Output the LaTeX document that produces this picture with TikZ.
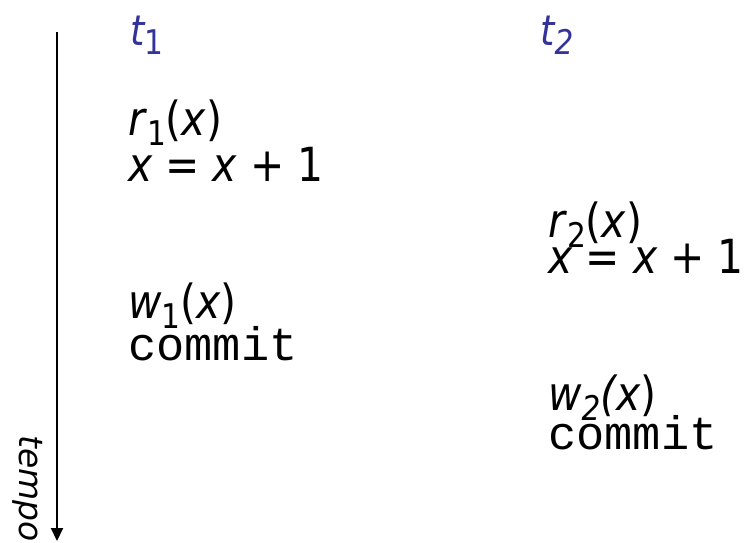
\documentclass[tikz,border=0pt]{standalone}
\usepackage{fontspec}
\setmainfont{DejaVu Sans}
\setmonofont{Liberation Mono}
\newfontfamily\opfont[FakeStretch=0.87]{DejaVu Sans}
\usepackage{tikz}
\usetikzlibrary{arrows.meta,positioning}
\definecolor{trblue}{RGB}{51,51,153}
\newcommand\idx[1]{\raisebox{-.22em}{\fontsize{34}{34}\selectfont #1}}
\newcommand\tvar[1]{\textit{#1}}
\tikzset{
  op/.style={anchor=base west, inner sep=0pt, align=left,
    font=\opfont\fontsize{47}{47}\selectfont},
  trname/.style={anchor=base west, inner sep=0pt, text=trblue,
    font=\opfont\fontsize{42}{42}\selectfont\itshape},
  commitline/.style={anchor=base west, inner sep=0pt,
    font=\fontsize{47}{47}\selectfont\ttfamily},
}

\begin{document}
\begin{tikzpicture}[x=1pt, y=1pt]
  \useasboundingbox (0,0) rectangle (747,-542);
  % time axis
  \coordinate (top) at (57,-32);
  \coordinate (bot) at (57,-541);
  \draw[line width=2pt, -{Triangle[length=13pt, width=12pt]}] (top) -- (bot);
  \node[rotate=-90, anchor=north west, inner sep=0pt,
    font=\fontsize{33}{33}\selectfont\itshape] (tempo) at (43,-435) {tempo};

  % transaction t1
  \node[trname] (t1) at (130,-45) {t\idx{\upshape 1}};
  \node[op] (r1) at (128,-135) {\tvar{r}\idx{1}(\tvar{x})};
  \node[op, below=46pt of r1.base west, anchor=base west] (u1) {\tvar{x} = \tvar{x} + 1};
  \node[op] (w1) at (128,-318) {\tvar{w}\idx{1}(\tvar{x})};
  \node[commitline, below=42pt of w1.base west, anchor=base west] (c1) {commit};

  % transaction t2
  \node[trname] (t2) at (540,-45) {t\idx{2}};
  \node[op] (r2) at (548,-237) {\tvar{r}\idx{2}(\tvar{x})};
  \node[op, below=36pt of r2.base west, anchor=base west] (u2) {\tvar{x} = \tvar{x} + 1};
  \node[op] (w2) at (548,-410) {\tvar{w\idx{2}(x})};
  \node[commitline, below=39pt of w2.base west, anchor=base west] (c2) {commit};
\end{tikzpicture}
\end{document}
